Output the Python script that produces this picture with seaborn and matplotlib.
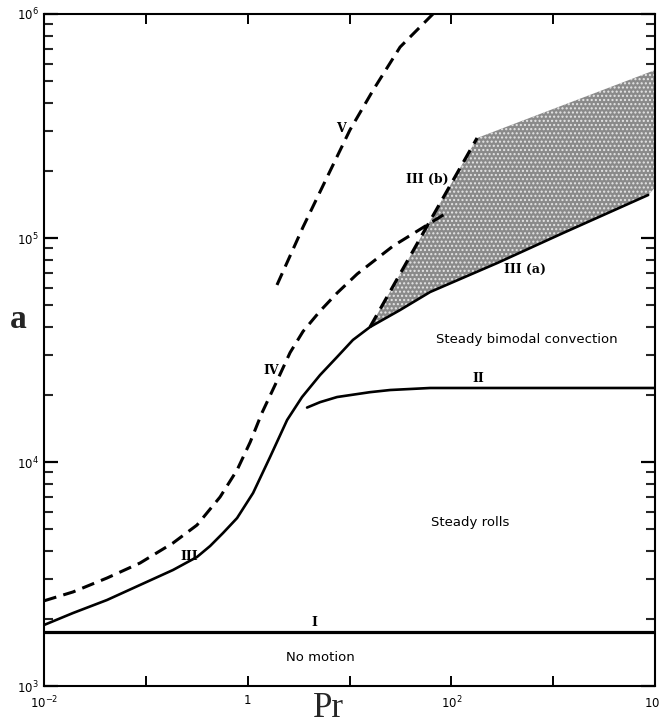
import numpy as np
import pandas as pd
import matplotlib
matplotlib.use("Agg")
import matplotlib.pyplot as plt
from matplotlib.ticker import FixedLocator, FixedFormatter, NullFormatter
import seaborn as sns

# ---------------- data ----------------
# Curve I : onset of convection
pr_I = [0.01, 1e4]
ra_I = [1750, 1750]

# Curve II : rolls -> bimodal
pr_II = [3.83, 5.14, 7.55, 15.9, 25.1, 61.9, 1e4]
ra_II = [17500, 18500, 19500, 20500, 20960, 21400, 21400]

# Curve III (solid, continues as III(a))
pr_III = [0.01, 0.0193, 0.0416, 0.0877, 0.185, 0.318, 0.428, 0.573, 0.787, 1.13,
          1.66, 2.44, 3.42, 5.14, 7.55, 10.8, 15.9, 31.4, 61.9, 282, 1254, 8570]
ra_III = [1872, 2118, 2421, 2825, 3296, 3767, 4217, 4820, 5620, 7270,
          10530, 15400, 19500, 24450, 29430, 35060, 40050, 47700, 57400, 77300,
          105300, 155600]

# Curve III(b) (dashed)
pr_IIIb = [15.9, 52.9, 179]
ra_IIIb = [40050, 105300, 279500]

# Curve IV (dashed)
pr_IV = [0.01, 0.0193, 0.0416, 0.0877, 0.185, 0.318, 0.536, 0.787, 1.06, 1.38,
         1.94, 2.61, 3.50, 5.14, 7.55, 11.9, 26.8, 57.8, 93]
ra_IV = [2400, 2630, 3035, 3540, 4350, 5230, 6980, 9210, 12280, 16550,
         23000, 30800, 38300, 47200, 56800, 69100, 92100, 114300, 130700]

# Curve V (dashed)
pr_V = [1.94, 3.50, 6.03, 10.1, 17.1, 31.4, 66]
ra_V = [61700, 112000, 187000, 303600, 458000, 712000, 1000000]

# Shaded (time-dependent) region
shade_top_pr = [15.9, 179, 1e4]
shade_top_ra = [40050, 279500, 562000]
shade_bot_pr = [15.9, 31.4, 61.9, 282, 1254, 8570, 1e4]
shade_bot_ra = [40050, 47700, 57400, 77300, 105300, 155600, 168000]

# Ticks
x_ticks = [1e-2, 1e-1, 1, 1e1, 1e2, 1e3, 1e4]
x_tick_labels = ["$10^{-2}$", "", "1", "", "$10^{2}$", "", "$10^{4}$"]
y_ticks = [1e3, 1e4, 1e5, 1e6]
y_tick_labels = ["$10^{3}$", "$10^{4}$", "$10^{5}$", "$10^{6}$"]

# ---------------- figure ----------------
sns.set_style("ticks")
plt.rcParams["font.family"] = ["DejaVu Sans"]

fig = plt.figure(figsize=(6.6, 7.26), dpi=100)
ax = fig.add_axes([44 / 660, 1 - 686 / 726, (655 - 44) / 660, (686 - 14) / 726])
ax.set_xscale("log")
ax.set_yscale("log")
ax.set_xlim(1e-2, 1e4)
ax.set_ylim(1e3, 1e6)

# shaded region
poly_pr = shade_top_pr + shade_bot_pr[::-1]
poly_ra = shade_top_ra + shade_bot_ra[::-1]
plt.rcParams["hatch.linewidth"] = 1.0
ax.fill(poly_pr, poly_ra, facecolor="#8a8a8a", edgecolor="#e6e6e6",
        hatch="....", linewidth=0, zorder=1)

dash = (0, (4.2, 2.4))
sns.lineplot(x=pr_I, y=ra_I, ax=ax, color="black", lw=2.3, zorder=3)
sns.lineplot(x=pr_II, y=ra_II, ax=ax, color="black", lw=1.9, zorder=3)
sns.lineplot(x=pr_III, y=ra_III, ax=ax, color="black", lw=1.9, zorder=3)
sns.lineplot(x=pr_IIIb, y=ra_IIIb, ax=ax, color="black", lw=2.3, linestyle=dash, zorder=3)
sns.lineplot(x=pr_IV, y=ra_IV, ax=ax, color="black", lw=2.2, linestyle=dash, zorder=3)
sns.lineplot(x=pr_V, y=ra_V, ax=ax, color="black", lw=2.2, linestyle=dash, zorder=3)

# ticks
ax.xaxis.set_major_locator(FixedLocator(x_ticks))
ax.xaxis.set_major_formatter(FixedFormatter(x_tick_labels))
ax.xaxis.set_minor_locator(FixedLocator([]))
ax.yaxis.set_major_locator(FixedLocator(y_ticks))
ax.yaxis.set_major_formatter(FixedFormatter(y_tick_labels))
y_minor = [m * 10.0 ** e for e in range(3, 6) for m in range(2, 10)]
ax.yaxis.set_minor_locator(FixedLocator(y_minor))
ax.yaxis.set_minor_formatter(NullFormatter())

ax.tick_params(axis="x", which="major", direction="in", length=7, width=1.4,
               top=True, bottom=True, labelsize=8.5, pad=6, colors="black")
ax.tick_params(axis="y", which="major", direction="in", length=10, width=1.6,
               left=True, right=True, labelsize=8.5, pad=4, colors="black")
ax.tick_params(axis="y", which="minor", direction="in", length=6.5, width=1.5,
               left=True, right=True)
for s in ax.spines.values():
    s.set_linewidth(1.5)
    s.set_color("black")

ax.set_xlabel("")
ax.set_ylabel("")

# region labels
reg = dict(transform=ax.transAxes, ha="center", va="center", fontsize=9.5,
           color="black")
ax.text(0.790, 0.515, "Steady bimodal convection", **reg)
ax.text(0.697, 0.243, "Steady rolls", **reg)
ax.text(0.453, 0.042, "No motion", **reg)

rom = dict(transform=ax.transAxes, ha="center", va="center", fontsize=9,
           family="DejaVu Serif", fontweight="bold", color="black")
ax.text(0.442, 0.095, "I", **rom)
ax.text(0.710, 0.458, "II", **rom)
ax.text(0.237, 0.192, "III", **rom)
ax.text(0.3715, 0.469, "IV", **rom)
ax.text(0.486, 0.830, "V", **rom)
ax.text(0.627, 0.7545, "III (b)", **rom)
ax.text(0.787, 0.6205, "III (a)", **rom)

# axis titles
fig.text(328 / 660, 1 - 725 / 726, "Pr", ha="center", va="bottom",
         fontsize=25, family="Liberation Serif")
fig.text(18 / 660, 1 - 319 / 726, "a", ha="center", va="center",
         fontsize=24, family="Liberation Serif", fontweight="bold")

fig.savefig("out.png", dpi=100)
